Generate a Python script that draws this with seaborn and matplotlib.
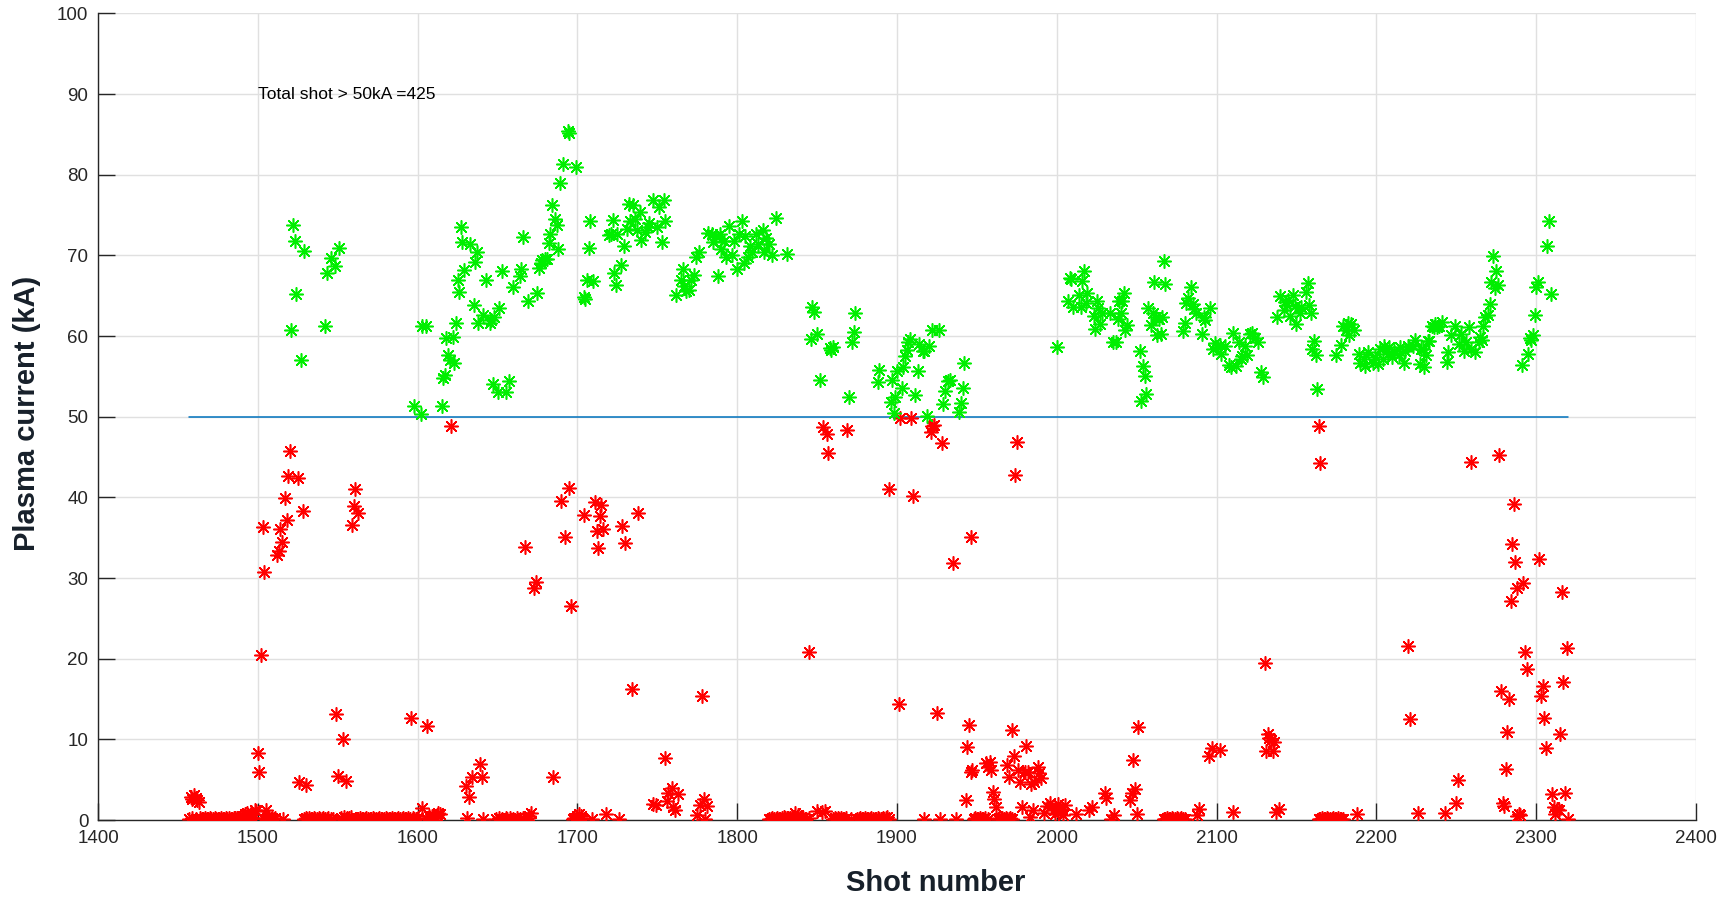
import matplotlib
matplotlib.use("Agg")
import matplotlib.pyplot as plt
import seaborn as sns

# shots above 50 kA
green_shots = [
    1522, 1523, 1529, 1524, 1521, 1527, 1542, 1543, 1546, 1548,
    1551, 1598, 1602, 1603, 1605, 1615, 1616, 1617, 1618, 1622,
    1619, 1620, 1623, 1624, 1626, 1625, 1627, 1628, 1629, 1633,
    1636, 1637, 1635, 1638, 1641, 1643, 1645, 1646, 1648, 1647,
    1650, 1655, 1657, 1651, 1653, 1660, 1664, 1665, 1666, 1669,
    1675, 1676, 1677, 1678, 1680, 1681, 1682, 1683, 1684, 1686,
    1687, 1688, 1689, 1691, 1694, 1695, 1699, 1704, 1705, 1708,
    1707, 1706, 1710, 1722, 1720, 1721, 1725, 1729, 1727, 1723,
    1724, 1732, 1735, 1739, 1736, 1733, 1731, 1737, 1740, 1742,
    1745, 1744, 1747, 1751, 1754, 1750, 1755, 1753, 1762, 1766,
    1765, 1768, 1767, 1771, 1773, 1770, 1774, 1776, 1788, 1782,
    1784, 1787, 1789, 1785, 1790, 1793, 1795, 1797, 1792, 1798,
    1801, 1803, 1800, 1805, 1804, 1807, 1808, 1809, 1812, 1813,
    1816, 1818, 1820, 1817, 1822, 1824, 1831, 1847, 1848, 1846,
    1850, 1852, 1858, 1860, 1859, 1874, 1873, 1872, 1870, 1889,
    1888, 1897, 1900, 1904, 1903, 1899, 1896, 1898, 1905, 1906,
    1907, 1908, 1913, 1911, 1914, 1917, 1920, 1922, 1926, 1919,
    1929, 1930, 1932, 1933, 1942, 1941, 1940, 1939, 1916, 2000,
    2008, 2009, 2017, 2016, 2007, 2010, 2014, 2015, 2019, 2018,
    2025, 2026, 2028, 2033, 2023, 2027, 2024, 2035, 2037, 2039,
    2042, 2041, 2040, 2038, 2044, 2043, 2052, 2054, 2055, 2056,
    2053, 2061, 2068, 2067, 2057, 2060, 2062, 2064, 2066, 2059,
    2065, 2063, 2084, 2082, 2081, 2085, 2086, 2087, 2092, 2093,
    2096, 2080, 2079, 2091, 2099, 2102, 2105, 2098, 2103, 2108,
    2109, 2112, 2110, 2114, 2118, 2116, 2115, 2119, 2122, 2124,
    2126, 2121, 2128, 2129, 2140, 2143, 2145, 2148, 2144, 2149,
    2153, 2156, 2157, 2158, 2159, 2152, 2146, 2150, 2138, 2142,
    2161, 2160, 2162, 2163, 2175, 2178, 2179, 2182, 2184, 2186,
    2181, 2183, 2189, 2192, 2195, 2199, 2202, 2205, 2208, 2211,
    2193, 2198, 2204, 2210, 2214, 2217, 2220, 2224, 2228, 2232,
    2231, 2227, 2230, 2190, 2201, 2207, 2235, 2238, 2215, 2218,
    2223, 2229, 2233, 2237, 2241, 2236, 2239, 2244, 2245, 2249,
    2247, 2253, 2258, 2252, 2255, 2259, 2262, 2256, 2265, 2266,
    2264, 2267, 2268, 2270, 2271, 2272, 2273, 2275, 2274, 2276,
    2291, 2295, 2297, 2298, 2296, 2299, 2300, 2301, 2307, 2308,
    2309,
]
green_kA = [
    73.7, 71.8, 70.5, 65.2, 60.7, 57.0, 61.3, 67.8, 69.7, 68.7,
    70.9, 51.3, 50.3, 61.2, 61.3, 51.3, 54.8, 55.2, 59.8, 59.9,
    57.7, 57.0, 56.6, 61.6, 65.4, 67.0, 73.5, 71.6, 68.2, 71.4,
    69.2, 70.4, 63.8, 61.6, 62.6, 67.0, 61.6, 62.0, 62.3, 54.0,
    53.0, 53.0, 54.4, 63.5, 68.1, 66.1, 67.4, 68.3, 72.3, 64.4,
    65.3, 68.4, 69.1, 69.4, 69.6, 69.6, 71.5, 72.7, 76.2, 74.5,
    73.7, 70.8, 79.0, 81.3, 85.4, 85.2, 81.0, 64.8, 64.6, 74.2,
    70.9, 66.9, 66.8, 74.4, 72.5, 72.7, 72.6, 71.2, 68.8, 67.8,
    66.3, 76.4, 76.3, 75.4, 74.5, 74.3, 73.3, 73.1, 71.9, 72.9,
    74.0, 73.5, 76.9, 76.0, 76.8, 73.5, 74.2, 71.6, 65.1, 68.3,
    66.9, 65.6, 66.2, 66.9, 67.6, 65.7, 69.8, 70.4, 67.5, 72.8,
    72.6, 72.4, 72.6, 71.7, 70.8, 69.8, 73.6, 70.1, 71.8, 71.8,
    72.6, 74.2, 68.3, 72.4, 69.1, 69.8, 71.2, 70.4, 72.7, 71.4,
    73.1, 72.2, 71.4, 70.4, 70.0, 74.6, 70.2, 63.6, 63.0, 59.6,
    60.3, 54.6, 58.5, 58.6, 58.3, 62.8, 60.5, 59.2, 52.4, 55.8,
    54.3, 54.6, 55.6, 56.1, 53.6, 52.5, 51.8, 50.5, 57.5, 58.3,
    59.2, 59.6, 55.6, 52.7, 59.0, 58.2, 58.8, 60.7, 60.7, 50.1,
    51.6, 53.2, 54.4, 54.6, 56.6, 53.5, 51.7, 50.6, 58.1, 58.6,
    67.2, 67.1, 68.1, 66.8, 64.3, 63.6, 65.1, 63.6, 65.3, 64.1,
    64.3, 63.5, 62.9, 62.8, 62.5, 61.5, 60.9, 59.3, 59.2, 64.3,
    65.3, 64.3, 62.9, 62.1, 61.4, 60.8, 58.2, 56.3, 55.1, 52.8,
    51.9, 66.7, 66.4, 69.3, 63.5, 62.8, 62.4, 62.1, 62.3, 61.4,
    60.3, 60.1, 66.1, 64.7, 64.1, 64.0, 63.3, 62.9, 62.4, 62.0,
    63.5, 61.6, 60.6, 60.3, 59.1, 58.9, 58.7, 58.4, 57.8, 56.4,
    56.1, 56.3, 60.4, 59.2, 58.8, 57.5, 57.1, 57.7, 60.4, 59.8,
    59.2, 60.2, 55.5, 54.9, 64.9, 64.2, 64.5, 65.1, 63.9, 63.7,
    63.6, 65.4, 66.6, 63.9, 62.9, 62.8, 62.5, 61.5, 62.3, 63.2,
    59.4, 58.4, 57.6, 53.4, 57.6, 58.9, 61.3, 61.6, 61.5, 60.8,
    60.7, 60.1, 57.8, 57.2, 58.0, 57.4, 58.4, 58.8, 58.6, 58.2,
    56.3, 56.7, 57.2, 57.4, 57.6, 56.7, 58.8, 59.5, 58.4, 59.4,
    57.6, 56.5, 56.1, 56.7, 56.5, 57.8, 61.3, 61.1, 58.6, 58.2,
    58.8, 58.4, 59.4, 61.5, 61.7, 61.1, 61.3, 56.8, 58.0, 61.3,
    60.1, 60.3, 61.1, 59.0, 58.2, 58.4, 58.0, 59.3, 59.9, 59.5,
    59.3, 61.3, 62.4, 62.6, 64.0, 66.7, 69.9, 68.0, 65.9, 66.3,
    56.4, 57.8, 59.5, 60.1, 59.7, 62.6, 66.1, 66.7, 71.2, 74.2,
    65.2,
]

# shots at or below 50 kA
red_shots = [
    1458, 1459, 1461, 1462, 1463, 1460, 1495, 1496, 1497, 1498,
    1494, 1493, 1499, 1492, 1490, 1500, 1501, 1502, 1503, 1504,
    1505, 1512, 1513, 1514, 1515, 1517, 1518, 1519, 1520, 1525,
    1528, 1526, 1530, 1549, 1553, 1550, 1555, 1559, 1560, 1561,
    1563, 1596, 1606, 1603, 1621, 1630, 1632, 1634, 1640, 1639,
    1612, 1613, 1611, 1614, 1609, 1667, 1674, 1673, 1690, 1695,
    1692, 1696, 1685, 1671, 1670, 1704, 1711, 1715, 1714, 1712,
    1716, 1713, 1728, 1730, 1738, 1734, 1778, 1755, 1759, 1757,
    1763, 1756, 1760, 1761, 1749, 1779, 1777, 1781, 1775, 1780,
    1718, 1700, 1701, 1702, 1699, 1747, 1836, 1838, 1840, 1850,
    1853, 1855, 1845, 1854, 1856, 1857, 1869, 1895, 1910, 1902,
    1909, 1923, 1921, 1922, 1928, 1975, 1974, 1946, 1935, 1901,
    1925, 1945, 1944, 1972, 1981, 1973, 1969, 1970, 1956, 1958,
    1957, 1959, 1947, 1946, 1976, 1980, 1982, 1988, 1989, 1977,
    1984, 1986, 1990, 1960, 1961, 1962, 1943, 1978, 1985, 1983,
    1992, 1994, 1996, 1998, 2001, 2003, 2005, 1999, 2002, 2004,
    2012, 2020, 2022, 2030, 2031, 2051, 2048, 2049, 2047, 2046,
    2050, 2036, 2089, 2088, 2097, 2095, 2102, 2110, 2132, 2133,
    2134, 2136, 2131, 2135, 2137, 2139, 2130, 2164, 2165, 2188,
    2220, 2221, 2226, 2243, 2251, 2250, 2259, 2277, 2286, 2285,
    2302, 2287, 2292, 2288, 2284, 2316, 2319, 2293, 2294, 2317,
    2278, 2304, 2283, 2303, 2305, 2282, 2315, 2306, 2281, 2279,
    2280, 2289, 2290, 2288, 2310, 2318, 2311, 2313, 2314, 2312,
    2320,
]
red_kA = [
    2.9, 2.6, 2.7, 2.5, 2.2, 3.1, 0.6, 1.0, 0.8, 1.3,
    0.5, 0.9, 1.1, 0.7, 0.5, 8.3, 6.0, 20.4, 36.3, 30.7,
    1.2, 32.8, 33.3, 36.1, 34.5, 39.9, 37.2, 42.7, 45.8, 42.4,
    38.3, 4.7, 4.4, 13.1, 10.1, 5.5, 4.8, 36.6, 38.9, 41.0,
    38.0, 12.6, 11.6, 1.5, 48.8, 4.2, 2.9, 5.3, 5.3, 7.0,
    0.6, 0.9, 0.4, 0.7, 0.5, 33.9, 29.5, 28.7, 39.5, 41.2,
    35.1, 26.5, 5.3, 0.9, 0.5, 37.8, 39.4, 39.1, 37.7, 35.8,
    36.1, 33.7, 36.5, 34.4, 38.0, 16.2, 15.4, 7.7, 4.0, 3.4,
    3.2, 2.3, 1.6, 1.3, 1.9, 2.6, 1.9, 1.7, 0.6, 0.1,
    0.7, 0.5, 0.8, 0.5, 0.3, 2.0, 0.9, 0.6, 0.4, 1.1,
    1.0, 1.1, 20.8, 48.7, 47.8, 45.5, 48.4, 41.0, 40.2, 49.8,
    49.8, 49.0, 48.1, 48.9, 46.7, 46.8, 42.8, 35.1, 31.8, 14.4,
    13.3, 11.8, 9.1, 11.2, 9.2, 7.9, 6.8, 5.3, 7.1, 7.2,
    6.6, 6.2, 6.2, 6.0, 6.2, 5.9, 6.0, 6.6, 5.8, 4.7,
    4.5, 4.7, 5.2, 3.5, 2.6, 1.6, 2.5, 1.6, 1.2, 0.4,
    0.9, 1.7, 2.1, 1.3, 2.0, 1.4, 1.8, 0.8, 1.2, 0.6,
    0.8, 1.3, 1.6, 3.3, 2.7, 11.5, 7.4, 3.8, 3.3, 2.5,
    0.8, 0.6, 1.4, 0.6, 8.9, 7.9, 8.7, 1.0, 10.7, 10.2,
    9.9, 9.7, 8.5, 8.5, 1.0, 1.4, 19.5, 48.8, 44.3, 0.8,
    21.6, 12.5, 0.9, 0.9, 5.0, 2.1, 44.4, 45.2, 39.2, 34.2,
    32.4, 32.0, 29.4, 28.8, 27.2, 28.3, 21.3, 20.8, 18.7, 17.1,
    16.0, 16.6, 15.0, 15.4, 12.6, 10.9, 10.7, 8.9, 6.3, 2.1,
    1.7, 0.8, 0.6, 0.5, 3.2, 3.4, 1.6, 1.4, 1.2, 0.8,
    0.1,
]

# failed shots sitting on the zero line
zero_shots = [
    1457, 1459, 1461, 1464, 1465, 1466, 1467, 1468, 1469, 1470,
    1471, 1472, 1473, 1474, 1475, 1476, 1477, 1478, 1479, 1480,
    1481, 1482, 1483, 1484, 1485, 1486, 1487, 1488, 1489, 1490,
    1491, 1493, 1495, 1497, 1503, 1505, 1506, 1507, 1508, 1509,
    1510, 1511, 1516, 1529, 1530, 1531, 1532, 1533, 1534, 1535,
    1536, 1537, 1538, 1539, 1540, 1541, 1542, 1543, 1544, 1546,
    1547, 1552, 1554, 1556, 1557, 1558, 1562, 1563, 1564, 1565,
    1566, 1567, 1568, 1569, 1570, 1571, 1572, 1573, 1574, 1575,
    1576, 1577, 1578, 1579, 1580, 1581, 1582, 1583, 1584, 1585,
    1586, 1587, 1588, 1589, 1590, 1591, 1592, 1593, 1594, 1595,
    1597, 1598, 1599, 1600, 1605, 1607, 1608, 1610, 1631, 1641,
    1649, 1651, 1653, 1655, 1656, 1658, 1660, 1662, 1664, 1666,
    1669, 1697, 1698, 1703, 1709, 1726, 1820, 1821, 1822, 1823,
    1824, 1825, 1826, 1827, 1828, 1829, 1830, 1831, 1832, 1833,
    1834, 1835, 1837, 1839, 1841, 1843, 1845, 1860, 1861, 1862,
    1863, 1864, 1865, 1866, 1867, 1868, 1871, 1875, 1876, 1877,
    1878, 1879, 1880, 1881, 1882, 1883, 1884, 1885, 1886, 1887,
    1888, 1889, 1890, 1891, 1892, 1893, 1894, 1895, 1917, 1927,
    1937, 1948, 1949, 1950, 1951, 1952, 1953, 1954, 1955, 1957,
    1963, 1964, 1965, 1966, 1967, 1968, 1969, 1970, 1971, 1972,
    2034, 2067, 2068, 2069, 2070, 2071, 2072, 2073, 2074, 2075,
    2076, 2077, 2078, 2079, 2080, 2164, 2165, 2166, 2167, 2168,
    2169, 2170, 2171, 2172, 2173, 2174, 2175, 2176, 2177, 2178,
    2179,
]
zero_kA = [
    0.1, 0.2, 0.1, 0.2, 0.1, 0.1, 0.2, 0.1, 0.1, 0.2,
    0.1, 0.1, 0.2, 0.1, 0.1, 0.1, 0.2, 0.1, 0.1, 0.2,
    0.1, 0.2, 0.1, 0.1, 0.2, 0.3, 0.2, 0.3, 0.2, 0.4,
    0.3, 0.2, 0.1, 0.3, 0.2, 0.1, 0.3, 0.2, 0.1, 0.2,
    0.1, 0.2, 0.1, 0.1, 0.2, 0.1, 0.2, 0.1, 0.1, 0.2,
    0.1, 0.1, 0.2, 0.1, 0.1, 0.2, 0.1, 0.1, 0.2, 0.1,
    0.1, 0.3, 0.4, 0.3, 0.2, 0.4, 0.1, 0.1, 0.2, 0.1,
    0.1, 0.1, 0.2, 0.1, 0.1, 0.1, 0.2, 0.1, 0.1, 0.1,
    0.2, 0.1, 0.1, 0.1, 0.2, 0.1, 0.1, 0.1, 0.2, 0.1,
    0.1, 0.1, 0.2, 0.1, 0.1, 0.2, 0.1, 0.1, 0.2, 0.1,
    0.2, 0.1, 0.1, 0.2, 0.3, 0.5, 0.2, 0.4, 0.2, 0.1,
    0.1, 0.2, 0.1, 0.3, 0.1, 0.2, 0.1, 0.2, 0.1, 0.3,
    0.2, 0.1, 0.2, 0.3, 0.1, 0.1, 0.1, 0.1, 0.2, 0.1,
    0.1, 0.2, 0.1, 0.1, 0.3, 0.4, 0.3, 0.2, 0.3, 0.2,
    0.4, 0.2, 0.3, 0.2, 0.3, 0.1, 0.2, 0.1, 0.2, 0.1,
    0.3, 0.1, 0.2, 0.1, 0.1, 0.2, 0.1, 0.1, 0.1, 0.2,
    0.1, 0.1, 0.2, 0.1, 0.1, 0.1, 0.2, 0.1, 0.1, 0.1,
    0.2, 0.1, 0.1, 0.3, 0.1, 0.2, 0.4, 0.1, 0.1, 0.1,
    0.1, 0.1, 0.2, 0.1, 0.1, 0.2, 0.1, 0.1, 0.2, 0.1,
    0.1, 0.2, 0.1, 0.3, 0.1, 0.2, 0.1, 0.1, 0.2, 0.1,
    0.1, 0.1, 0.1, 0.2, 0.1, 0.1, 0.2, 0.1, 0.1, 0.2,
    0.1, 0.1, 0.2, 0.1, 0.1, 0.1, 0.1, 0.2, 0.1, 0.1,
    0.2, 0.1, 0.1, 0.1, 0.2, 0.1, 0.1, 0.2, 0.1, 0.1,
    0.1,
]

threshold_x = [1457, 2320]
threshold_y = [50, 50]
total_text = 'Total shot > 50kA =425'

sns.set_theme(style="whitegrid")
plt.rcParams['font.family'] = ['Liberation Sans', 'DejaVu Sans']

fig = plt.figure(figsize=(17.35, 9.01), dpi=100)
ax = fig.add_axes([0.0565, 0.0899, 0.9210, 0.8953])

ax.plot(threshold_x, threshold_y, color='#0072BD', linewidth=1.1, zorder=2)

star = (8, 2, 0)
sns.scatterplot(x=red_shots + zero_shots, y=red_kA + zero_kA, ax=ax, marker=star,
                color='#FF0000', s=95, linewidth=1.15, zorder=3)
sns.scatterplot(x=green_shots, y=green_kA, ax=ax, marker=star,
                color='#00EE00', s=95, linewidth=1.15, zorder=3)

ax.text(1500, 90, total_text, fontsize=12.5, va='center', ha='left', color='black')

ax.set_xlim(1400, 2400)
ax.set_ylim(0, 100)
ax.set_xticks(range(1400, 2401, 100))
ax.set_yticks(range(0, 101, 10))
ax.grid(True, color='#e0e0e0', linewidth=1.0)
ax.set_facecolor('white')

for side in ['top', 'right']:
    ax.spines[side].set_visible(False)
for side in ['left', 'bottom']:
    ax.spines[side].set_color('#262626')
    ax.spines[side].set_linewidth(1.0)

ax.tick_params(axis='both', direction='in', length=12, width=1.0, color='#262626',
               labelsize=13.5, labelcolor='#262626', pad=7, bottom=True, left=True)

ax.set_xlabel('Shot number', fontsize=21, fontweight='bold', color='#17202a')
ax.set_ylabel('Plasma current (kA)', fontsize=21, fontweight='bold', color='#17202a')
ax.xaxis.set_label_coords(0.524, -0.061)
ax.yaxis.set_label_coords(-0.036, 0.504)

fig.savefig('out.png', dpi=100, facecolor='white')
